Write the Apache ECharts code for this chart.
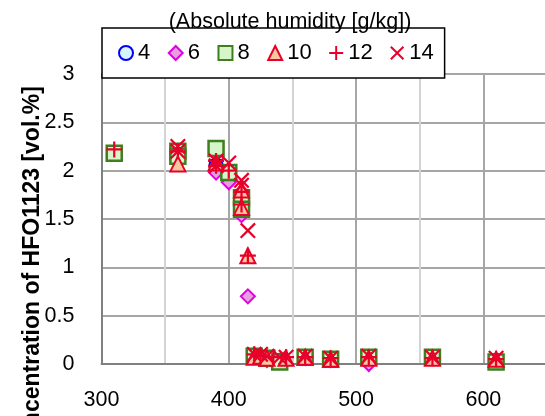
<!DOCTYPE html>
<html>
<head>
<meta charset="utf-8">
<script src="https://cdn.jsdelivr.net/npm/echarts@6/dist/echarts.min.js"></script>
<style>
  html, body { margin: 0; padding: 0; background: #fff; }
  #main { width: 545px; height: 416px; }
</style>
</head>
<body>
<div id="main"></div>
<script>
// absolute humidity groups [g/kg]
const humidity = ['4', '6', '8', '10', '12', '14'];

// temperature (x) and HFO1123 concentration (y) per group
const x4  = [360, 390, 400, 410, 420, 430, 440, 460, 480, 510, 560, 610];
const y4  = [2.15, 2.06, 1.96, 1.7, 0.08, 0.05, 0.04, 0.06, 0.05, 0.05, 0.06, 0.04];

const x6  = [360, 390, 400, 410, 415, 420, 425, 430, 440, 460, 480, 510, 610];
const y6  = [2.12, 1.98, 1.88, 1.54, 0.7, 0.08, 0.06, 0.04, 0.03, 0.06, 0.04, 0.0, 0.03];

const x8  = [310, 360, 360, 390, 400, 410, 410, 420, 430, 440, 460, 480, 510, 560, 610];
const y8  = [2.18, 2.2, 2.15, 2.23, 1.98, 1.72, 1.6, 0.08, 0.06, 0.02, 0.07, 0.05, 0.07, 0.07, 0.02];

const x10 = [360, 390, 410, 410, 415, 420, 425, 430, 445, 460, 480, 510, 560, 610];
const y10 = [2.07, 2.08, 1.8, 1.62, 1.12, 0.07, 0.08, 0.06, 0.06, 0.07, 0.05, 0.06, 0.06, 0.05];

const x12 = [310, 360, 390, 390, 400, 410, 410, 415, 420, 425, 435, 445, 460, 480, 510, 560, 610];
const y12 = [2.22, 2.2, 2.1, 2.05, 2.0, 1.78, 1.65, 1.12, 0.1, 0.08, 0.07, 0.07, 0.07, 0.06, 0.07, 0.06, 0.05];

const x14 = [360, 360, 390, 390, 400, 410, 410, 415, 420, 425, 430, 440, 445, 460, 480, 510, 560, 610];
const y14 = [2.25, 2.2, 2.1, 2.05, 2.08, 1.9, 1.85, 1.38, 0.1, 0.1, 0.08, 0.07, 0.07, 0.08, 0.06, 0.08, 0.07, 0.06];

const xTicks = [300, 400, 500, 600];

const plusPath = 'path://M4.3,0h1.4v10h-1.4z M0,4.3h10v1.4h-10z';
const crossPath = 'path://M0,1 L1,0 L10,9 L9,10Z M9,0 L10,1 L1,10 L0,9Z';

function pairs(xs, ys) {
  return xs.map((v, i) => [v, ys[i]]);
}

const font = 'Liberation Sans, Arial, sans-serif';

let chart = echarts.init(document.getElementById('main'));

let option = {
  animation: false,
  textStyle: { fontFamily: font },
  title: {
    text: '(Absolute humidity [g/kg])',
    left: 285,
    textAlign: 'center',
    top: 6,
    textStyle: { fontSize: 21.5, fontWeight: 'normal', color: '#000', fontFamily: font }
  },
  legend: {
    left: 102,
    top: 28,
    padding: [14, 11, 14, 16],
    backgroundColor: '#fff',
    borderColor: '#000',
    borderWidth: 1.5,
    itemGap: 17.5,
    itemWidth: 14,
    itemHeight: 14,
    textStyle: { fontSize: 22, color: '#000', fontFamily: font },
    data: humidity
  },
  grid: { left: 101.5, right: -2, top: 74, bottom: 52, outerBoundsMode: 'none', containLabel: false },
  xAxis: {
    type: 'value',
    min: 300,
    max: 650,
    interval: 50,
    axisLine: { show: true, lineStyle: { color: '#808080', width: 2 } },
    axisTick: { show: false },
    axisLabel: {
      fontSize: 21.5,
      color: '#000',
      margin: 25,
      formatter: v => (xTicks.indexOf(v) >= 0 ? String(v) : '')
    },
    splitLine: { show: true, lineStyle: { color: ['#a6a6a6', '#d4d4d4'], width: 2 } }
  },
  yAxis: {
    type: 'value',
    min: 0,
    max: 3,
    interval: 0.5,
    name: 'Concentration of HFO1123 [vol.%]',
    nameLocation: 'middle',
    nameGap: 57,
    nameMoveOverlap: false,
    nameTextStyle: { fontSize: 23, fontWeight: 'bold', color: '#000', fontFamily: font, padding: [0, 0, 0, -105] },
    axisLine: { show: true, lineStyle: { color: '#808080', width: 2 } },
    axisTick: { show: false },
    axisLabel: { fontSize: 21.5, color: '#000', margin: 27 },
    splitLine: { show: true, lineStyle: { color: '#a6a6a6', width: 2 } }
  },
  series: [
    {
      name: '4', type: 'scatter', data: pairs(x4, y4),
      symbol: 'circle', symbolSize: 13,
      itemStyle: { color: '#d8f4fb', borderColor: '#0000ff', borderWidth: 2, opacity: 1 }
    },
    {
      name: '6', type: 'scatter', data: pairs(x6, y6),
      symbol: 'diamond', symbolSize: 14,
      itemStyle: { color: '#e89ee0', borderColor: '#e000e0', borderWidth: 2, opacity: 1 }
    },
    {
      name: '8', type: 'scatter', data: pairs(x8, y8),
      symbol: 'rect', symbolSize: 15,
      itemStyle: { color: '#d6f5c8', borderColor: '#3f7f1f', borderWidth: 2.5, opacity: 1 }
    },
    {
      name: '10', type: 'scatter', data: pairs(x10, y10),
      symbol: 'triangle', symbolSize: 15,
      itemStyle: { color: '#f7c8a0', borderColor: '#e8002a', borderWidth: 2, opacity: 1 }
    },
    {
      name: '12', type: 'scatter', data: pairs(x12, y12),
      symbol: plusPath, symbolSize: 16,
      itemStyle: { color: '#e8002a', borderWidth: 0, opacity: 1 }
    },
    {
      name: '14', type: 'scatter', data: pairs(x14, y14),
      symbol: crossPath, symbolSize: 16,
      itemStyle: { color: '#e8002a', borderWidth: 0, opacity: 1 }
    }
  ]
};

chart.setOption(option);
</script>
</body>
</html>
